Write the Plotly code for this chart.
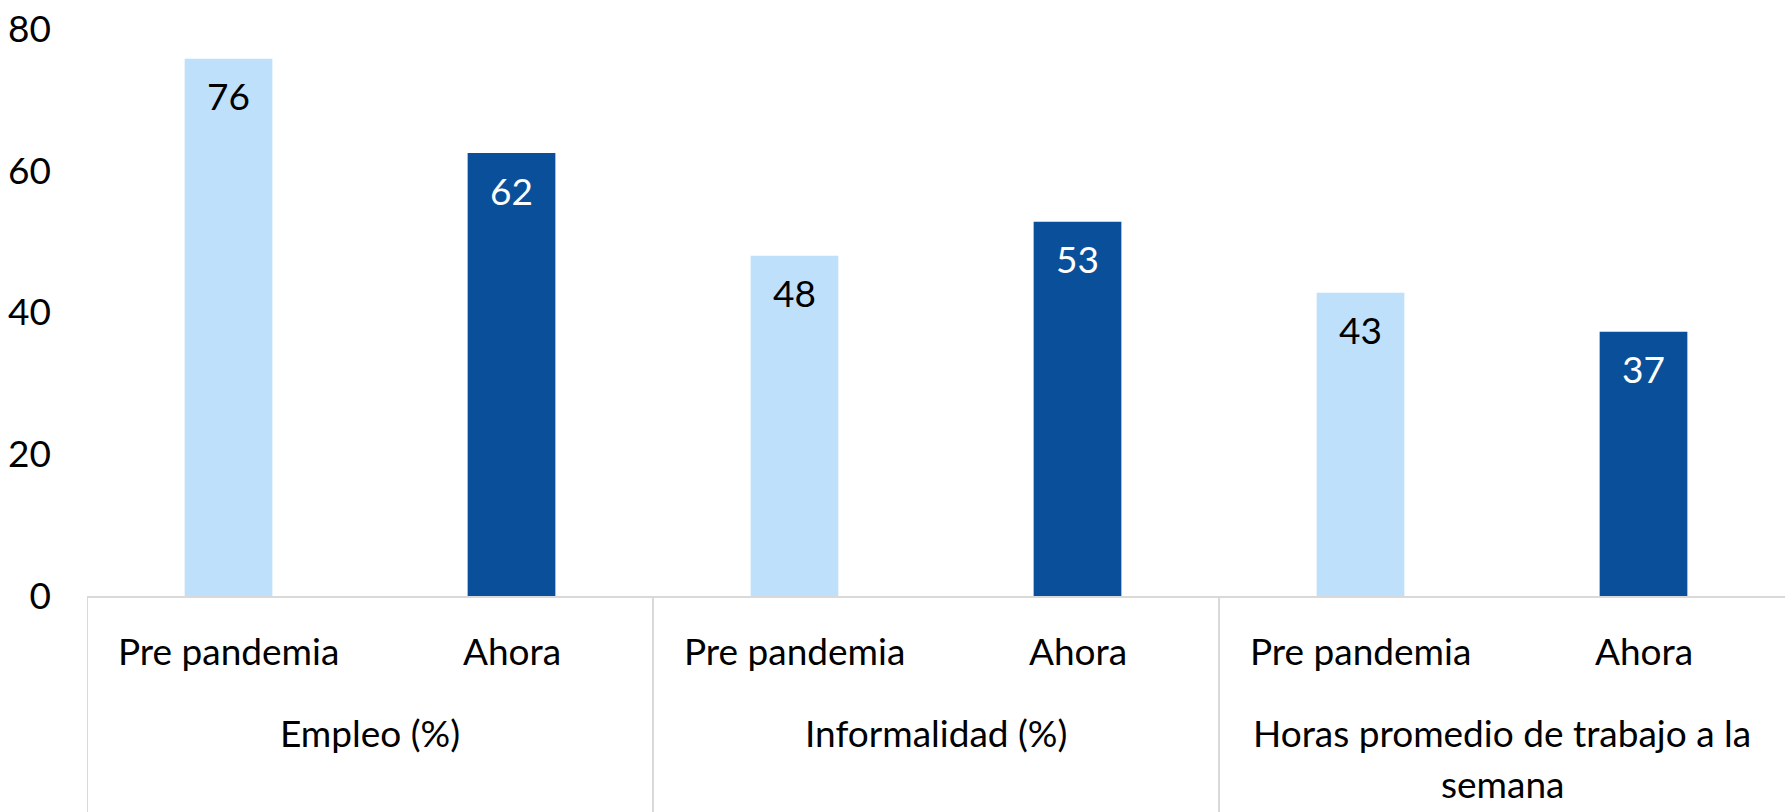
import plotly.graph_objects as go

groups = ["Empleo (%)", "Informalidad (%)", "Horas promedio de trabajo a la<br>semana"]
periods = ["Pre pandemia", "Ahora"]
pre_values = [75.8, 48.0, 42.8]
now_values = [62.5, 52.8, 37.3]
y_ticks = [0, 20, 40, 60, 80]

pre_color = "#BFE0FB"
now_color = "#0A4F9A"
grid_color = "#D9D9D9"
FONT = "Lato"
FS = 37

cats = [f"{g}|{p}" for g in groups for p in periods]
pre_x = [f"{g}|{periods[0]}" for g in groups]
now_x = [f"{g}|{periods[1]}" for g in groups]

fig = go.Figure()
fig.add_trace(go.Bar(x=pre_x, y=pre_values, marker=dict(color=pre_color, line=dict(width=0)),
                     width=0.31, name=periods[0], hoverinfo="skip"))
fig.add_trace(go.Bar(x=now_x, y=now_values, marker=dict(color=now_color, line=dict(width=0)),
                     width=0.31, name=periods[1], hoverinfo="skip"))

annotations = []
# data labels
for xs, vals, col in [(pre_x, pre_values, "#000000"), (now_x, now_values, "#FFFFFF")]:
    for x, v in zip(xs, vals):
        annotations.append(dict(x=x, y=v, xref="x", yref="y", text=f"{v:.0f}", showarrow=False,
                                yanchor="middle", yshift=-37, font=dict(family=FONT, size=FS, color=col)))
# sub-category labels
for c in cats:
    annotations.append(dict(x=c, y=0, xref="x", yref="paper", text=c.split("|")[1], showarrow=False,
                            yanchor="middle", yshift=-54, font=dict(family=FONT, size=FS, color="#000000")))
# group labels (one annotation per line for Excel-like line spacing)
for i, g in enumerate(groups):
    for k, line in enumerate(g.split("<br>")):
        annotations.append(dict(x=2 * i + 0.5, y=0, xref="x", yref="paper", text=line, showarrow=False,
                                yanchor="middle", yshift=-136 - 51 * k,
                                font=dict(family=FONT, size=FS, color="#000000")))

shapes = []
for i in range(len(groups)):
    shapes.append(dict(type="line", xref="x", yref="paper", x0=2 * i - 0.5, x1=2 * i - 0.5,
                       y0=0, y1=-0.45, line=dict(color=grid_color, width=2)))

fig.update_layout(
    width=1785, height=812,
    margin=dict(l=87, r=0, t=29, b=216),
    plot_bgcolor="white", paper_bgcolor="white",
    barmode="overlay", showlegend=False,
    font=dict(family=FONT, size=FS, color="#000000"),
    annotations=annotations, shapes=shapes,
    xaxis=dict(type="category", categoryorder="array", categoryarray=cats, range=[-0.5, 5.5],
               showticklabels=False, showgrid=False, zeroline=False, showline=True,
               linecolor=grid_color, linewidth=2, ticks="", automargin=False),
    yaxis=dict(range=[0, 80], tickvals=y_ticks, showgrid=False, zeroline=False, showline=False,
               ticks="", ticklabelstandoff=35, ticklabeloverflow="allow", automargin=False,
               tickfont=dict(family=FONT, size=FS, color="#000000")),
)

fig.write_html("out.html", config={"displayModeBar": False},
               post_script="document.body.style.margin='0';")
